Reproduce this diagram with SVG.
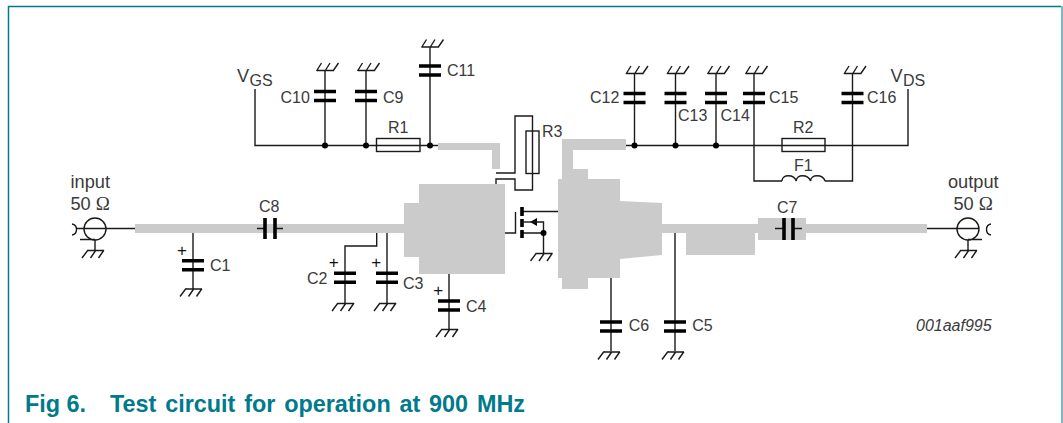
<svg xmlns="http://www.w3.org/2000/svg" width="1063" height="423" viewBox="0 0 1063 423">
<style>
text{font-family:"Liberation Sans",Arial,sans-serif;fill:#3a3a3a;font-size:16px}
.big{font-size:18.2px}
.om{font-family:"Liberation Serif",serif;font-size:19px}
.plus{font-size:17px;fill:#111;text-anchor:middle}
.cap{font-size:23.4px;font-weight:bold;fill:#007a8c}
.w{fill:none;stroke:#1a1a1a;stroke-width:1.4}
.pl{fill:none;stroke:#000;stroke-width:3.6}
.gr{fill:#cbcbcb}
.d{fill:#000}
</style>
<defs>
<g id="gnd" class="w"><path d="M-7 .5H9M-7 0L-13 8M1 0L-4.500 8M9 0L3.500 8"/></g>
<g id="gndu" class="w"><path d="M-8.500 -.5H8M8 0L13.500 -8M0 0L5 -8M-8.500 0L-3.500 -8"/></g>
<g id="capv"><path class="pl" d="M-11 0H11M-11 9H11"/></g>
</defs>
<path id="frame" d="M8.500 423V6.500H1061" fill="none" stroke="#007a8c" stroke-width="1.5"/>
<rect x="1061" y="6" width="2" height="417" fill="#7fb8c4"/>
<g id="striplines">
<path class="gr" d="M135 224H404V203H419V184H505V274H419V257H404V233H135Z"/>
<path class="gr" d="M438 143H500V169H492V150H438Z"/>
<path class="gr" d="M562 139H626V150H573V169H588V179H620V201L662 203V224H755V224H758V218H806V224H927V233H806V240H758V233H755V255H686V233H662V255L620 259V278H588V289H562V278H558V179H562Z"/>
</g>
<g id="connectors" class="w">
<path d="M255 89V145.500H438M626 145.500H908V89"/>
<path d="M325 71V145M366 71V145M430 47V145M634.500 74V145M675.500 74V145M716 74V145"/>
<path d="M754 74V181H782M825 181H852.500V74"/>
<path d="M496 173H515V116H532.500V190H515V179H496V184"/>
<path d="M77 228.500H135M927 228.500H979"/>
<path d="M193 233V289M345 289V246H376.700V233M387 233V303M345 282V303M449 274V329"/>
<path d="M611 278V351M675 233V351"/>
<path d="M505 233H515.500V212M515.500 233V212M522 211.500H558M537 222H543.500V253M522 233H543.500"/>
<path d="M257 228.500H265M275 228.500H283M775 228.500H784M793 228.500H802"/>
<path d="M782 181C782 174 794 174 796.300 181C796.300 174 808 174 810.600 181C810.600 174 823 174 825 181"/>
</g>
<g id="input"><text class="big" x="70.500" y="188">input</text><text class="big" x="70.500" y="210">50 <tspan class="om">Ω</tspan></text>
<circle class="w" cx="95" cy="229" r="11"/><path class="w" d="M72 224C78 225 78 234 72 235M80 239.500H95M95 240V250"/><use href="#gnd" x="95" y="250"/></g>
<g id="output"><text class="big" x="948" y="188">output</text><text class="big" x="953.500" y="210">50 <tspan class="om">Ω</tspan></text>
<circle class="w" cx="968" cy="229" r="11"/><path class="w" d="M991 224C985 225 985 234 991 235M968 239.500H982M968 240V250"/><use href="#gnd" x="968" y="250"/></g>
<g id="VGS"><text x="237" y="82" class="big">V</text><text x="249.500" y="85.500">GS</text></g>
<g id="VDS"><text x="890.500" y="82" class="big">V</text><text x="903" y="85.500">DS</text></g>
<g id="C10"><use href="#gndu" x="325" y="71"/><use href="#capv" x="325" y="91.500"/><text x="280.500" y="103">C10</text><circle class="d" cx="325" cy="145.500" r="3"/></g>
<g id="C9"><use href="#gndu" x="366" y="71"/><use href="#capv" x="366" y="91.500"/><text x="383" y="103">C9</text><circle class="d" cx="366" cy="145.500" r="3"/></g>
<g id="C11"><use href="#gndu" x="430" y="47.500"/><use href="#capv" x="430" y="66"/><text x="447" y="76">C11</text><circle class="d" cx="430" cy="145.500" r="3"/></g>
<g id="R1"><rect x="376.500" y="138.500" width="43.500" height="13" fill="#fff" class="w"/><text x="388" y="133">R1</text></g>
<g id="R3"><rect x="526" y="131" width="13" height="42.500" fill="#fff" class="w"/><text x="542" y="137">R3</text></g>
<g id="C12"><use href="#gndu" x="634.500" y="74"/><use href="#capv" x="634.500" y="93.500"/><text x="590" y="103">C12</text><circle class="d" cx="634.500" cy="145.500" r="3"/></g>
<g id="C13"><use href="#gndu" x="675.500" y="74"/><use href="#capv" x="675.500" y="93.500"/><text x="678" y="120.500">C13</text><circle class="d" cx="675.500" cy="145.500" r="3"/></g>
<g id="C14"><use href="#gndu" x="716" y="74"/><use href="#capv" x="716" y="93.500"/><text x="720.500" y="120.500">C14</text><circle class="d" cx="716" cy="145.500" r="3"/></g>
<g id="C15"><use href="#gndu" x="754" y="74"/><use href="#capv" x="754" y="93.500"/><text x="769" y="103">C15</text></g>
<g id="C16"><use href="#gndu" x="852.500" y="74"/><use href="#capv" x="852.500" y="93.500"/><text x="867" y="103">C16</text></g>
<g id="R2"><rect x="782" y="138.500" width="43" height="13" fill="#fff" class="w"/><text x="793" y="132.500">R2</text></g>
<g id="F1"><text x="794" y="171">F1</text></g>
<g id="C1"><use href="#capv" x="193" y="260.700"/><use href="#gnd" x="193" y="288.500"/><text x="210" y="271">C1</text><text class="plus" x="182" y="255.700">+</text></g>
<g id="C2"><use href="#capv" x="345" y="273.300"/><use href="#gnd" x="345" y="303"/><text x="307" y="284">C2</text><text class="plus" x="333.700" y="268.300">+</text></g>
<g id="C3"><use href="#capv" x="387" y="273.300"/><use href="#gnd" x="387" y="303"/><text x="403" y="289">C3</text><text class="plus" x="376.300" y="268.300">+</text></g>
<g id="C4"><use href="#capv" x="449" y="301"/><use href="#gnd" x="449" y="329"/><text x="466" y="312">C4</text><text class="plus" x="438.300" y="296.300">+</text></g>
<g id="C5"><use href="#capv" x="675" y="322"/><use href="#gnd" x="675" y="351.500"/><text x="692.300" y="331">C5</text></g>
<g id="C6"><use href="#capv" x="611" y="322"/><use href="#gnd" x="611" y="351.500"/><text x="628.700" y="331">C6</text></g>
<g id="C8"><path class="pl" d="M265 218V239M275 218V239"/><text x="259" y="212">C8</text></g>
<g id="C7"><path class="pl" d="M784 218V240M793 218V240"/><text x="777" y="213">C7</text></g>
<g id="FET"><path class="pl" d="M522 207V216M522 219V227M522 230V238"/><path class="d" d="M530 222L537 218V226Z"/><path class="w" d="M522 222H537"/><circle class="d" cx="543.500" cy="233" r="3"/><use href="#gnd" x="543.500" y="253"/></g>
<text x="916" y="331" font-style="italic">001aaf995</text>
<g id="caption"><text class="cap" x="25" y="411.500">Fig 6.</text><text class="cap" x="110" y="411.500" word-spacing="2.300">Test circuit for operation at 900 MHz</text></g>
</svg>
